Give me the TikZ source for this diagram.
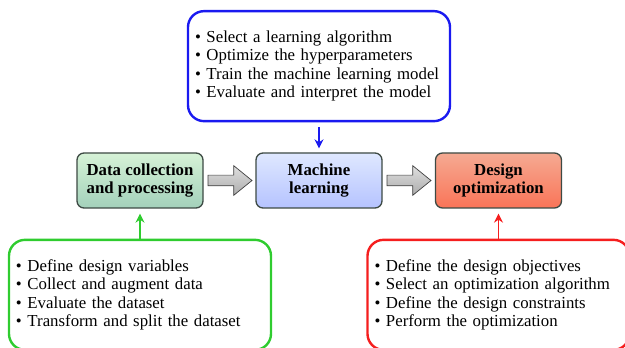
\documentclass[tikz,border=0pt]{standalone}
\usepackage{fontspec}
\setmainfont{Liberation Serif}
\usetikzlibrary{positioning, shapes.arrows, arrows.meta}

\definecolor{datatop}{HTML}{D6F2D6}
\definecolor{databot}{HTML}{A3D1BB}
\definecolor{mltop}{HTML}{DFE8FF}
\definecolor{mlbot}{HTML}{B5C3FF}
\definecolor{opttop}{HTML}{F5AA92}
\definecolor{optbot}{HTML}{FA7458}
\definecolor{boxline}{HTML}{3D4A44}
\definecolor{mlblue}{HTML}{1A1AF0}
\definecolor{datagreen}{HTML}{2FCC2F}
\definecolor{optred}{HTML}{F51E1E}

\begin{document}
\begin{tikzpicture}[x=1pt, y=1pt,
    stage/.style={draw=boxline, line width=1.3pt, rounded corners=7pt,
        minimum width=126pt, minimum height=55pt, align=center,
        font=\fontsize{16.8}{18}\selectfont\bfseries},
    taskbox/.style={line width=2.4pt, rounded corners=16pt,
        minimum width=262pt, minimum height=110pt, inner xsep=7pt,
        text width=248pt, align=left,
        font=\fontsize{16.8}{18.5}\selectfont},
    blockarrow/.style={single arrow, draw=black!75, line width=0.7pt,
        top color=gray!25, bottom color=gray!65, inner sep=5pt,
        minimum height=44pt, single arrow head extend=9.5pt,
        single arrow tip angle=78},
    smallarrow/.style={line width=1.6pt, -{Stealth[length=9pt, width=9pt]}}]
    \useasboundingbox (0,0) rectangle (625,348);
    \clip (0,0) rectangle (625,348);
    % main stages
    \node[stage, top color=datatop, bottom color=databot] (data) at (140, 167.5)
        {Data collection\\and processing};
    \node[stage, top color=mltop, bottom color=mlbot] (ml) at (319, 167.5)
        {Machine\\learning};
    \node[stage, top color=opttop, bottom color=optbot] (design) at (498.5, 167.5)
        {Design\\optimization};
    % block arrows between stages
    \node[blockarrow, right=4pt of data] (arr1) {};
    \node[blockarrow, right=4pt of ml] (arr2) {};
    % task boxes
    \node[taskbox, draw=mlblue, above=30pt of ml] (mltasks)
        {\textbullet\ Select a learning algorithm\\
         \textbullet\ Optimize the hyperparameters\\
         \textbullet\ Train the machine learning model\\
         \textbullet\ Evaluate and interpret the model};
    \node[taskbox, draw=datagreen, below=30pt of data] (datatasks)
        {\textbullet\ Define design variables\\
         \textbullet\ Collect and augment data\\
         \textbullet\ Evaluate the dataset\\
         \textbullet\ Transform and split the dataset};
    \node[taskbox, draw=optred, below=30pt of design] (opttasks)
        {\textbullet\ Define the design objectives\\
         \textbullet\ Select an optimization algorithm\\
         \textbullet\ Define the design constraints\\
         \textbullet\ Perform the optimization};
    % arrows from task boxes
    \draw[smallarrow, mlblue, shorten <=5pt, shorten >=4pt] (mltasks.south -| ml) -- (ml.north);
    \draw[smallarrow, datagreen, shorten >=5pt] (datatasks.north -| data) -- (data.south);
    \draw[smallarrow, optred, shorten >=5pt] (opttasks.north -| design) -- (design.south);
\end{tikzpicture}
\end{document}
